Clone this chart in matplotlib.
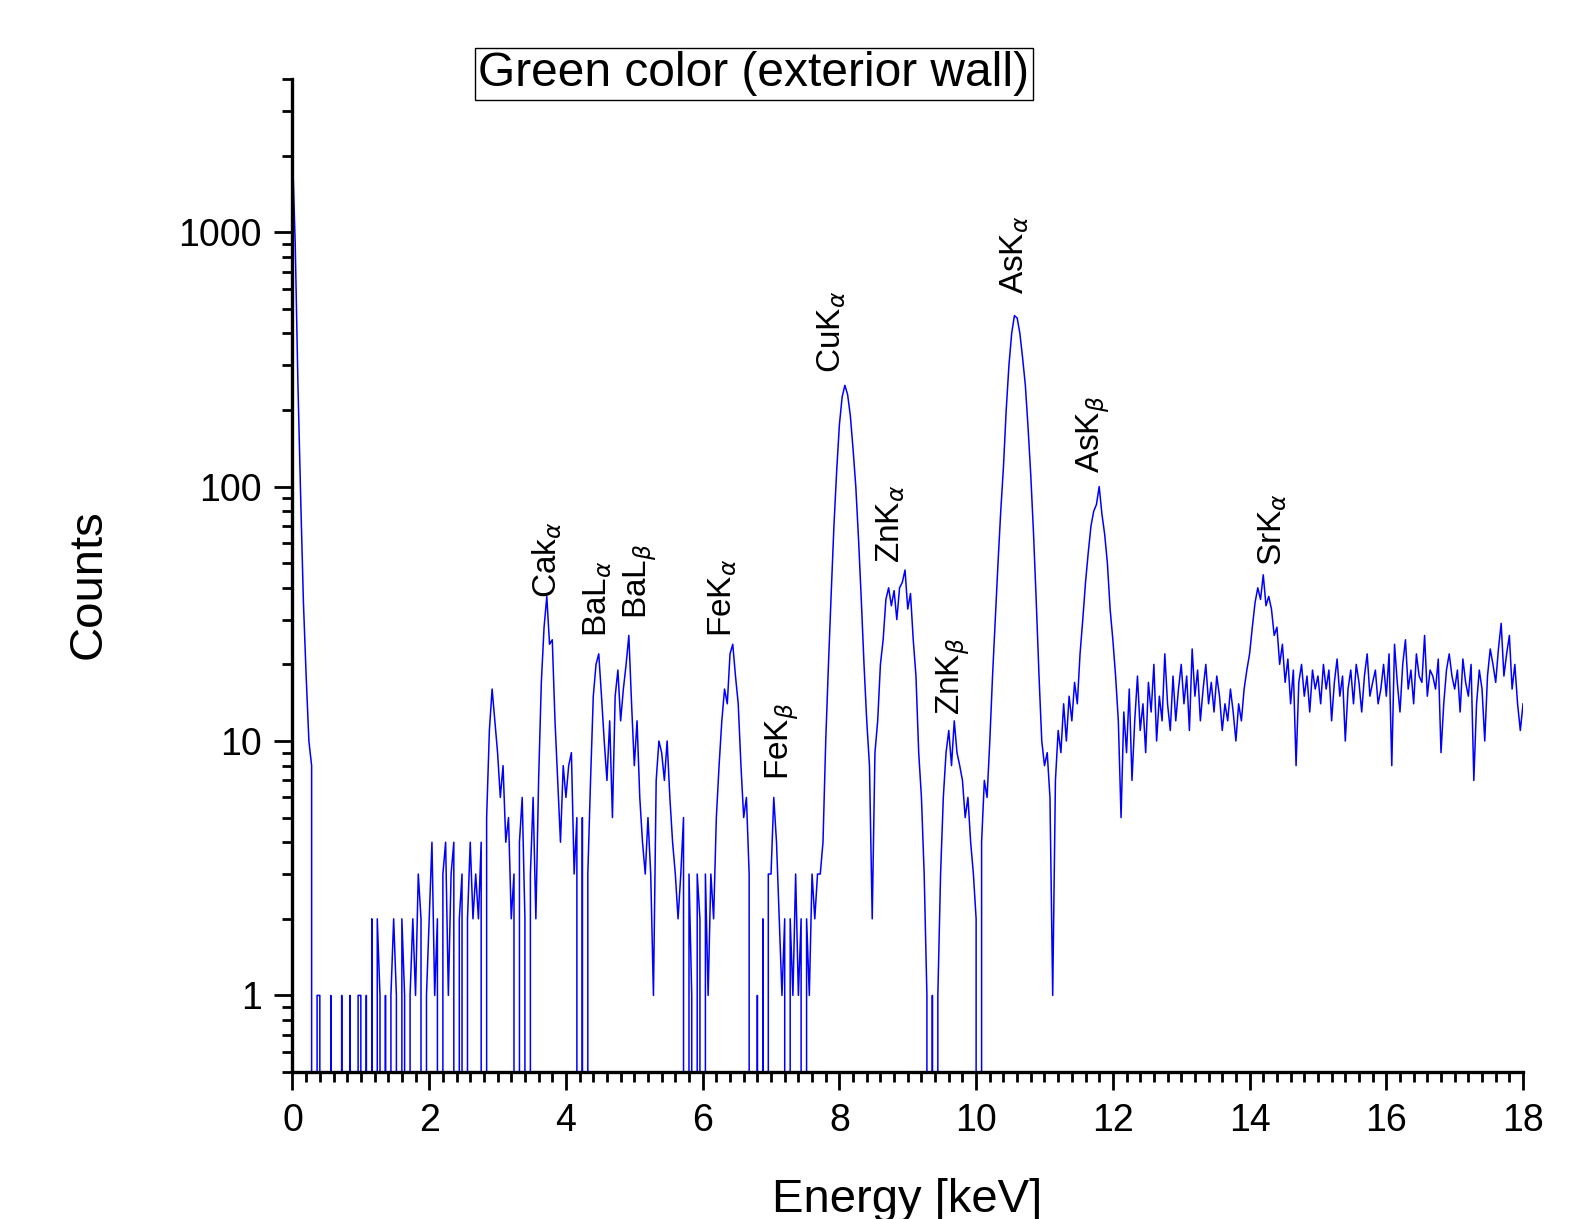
import numpy as np
import matplotlib
matplotlib.use("Agg")
import matplotlib.pyplot as plt

plt.rcParams['font.family'] = ['Liberation Sans', 'DejaVu Sans']

# XRF spectrum, one count value every 0.04 keV
ENERGY_STEP = 0.04
counts = [
    # 0.00 - 0.96
    2050, 900, 250, 90, 35, 18, 10, 8, 0, 1, 1, 0, 0, 0, 1, 0, 0, 0, 1, 0, 0, 1, 0, 0, 1,
    # 1.00 - 1.96
    1, 0, 1, 0, 2, 0, 2, 1, 0, 1, 0, 1, 2, 1, 0, 2, 1, 0, 1, 2, 1, 3, 2, 0, 1,
    # 2.00 - 2.96
    2, 4, 1, 2, 0, 3, 4, 1, 3, 4, 0, 2, 3, 0, 2, 4, 2, 3, 2, 4, 0, 5, 11, 16, 12,
    # 3.00 - 3.96
    9, 6, 8, 4, 5, 2, 3, 0, 4, 6, 2, 0, 3, 6, 2, 7, 17, 28, 37, 24, 25, 12, 7, 4, 8,
    # 4.00 - 4.96
    6, 8, 9, 3, 5, 0, 5, 0, 3, 7, 15, 20, 22, 15, 10, 7, 12, 5, 15, 19, 12, 16, 20, 26, 14,
    # 5.00 - 5.96
    8, 12, 6, 4, 3, 5, 3, 1, 7, 10, 9, 7, 10, 6, 4, 3, 2, 3, 5, 0, 3, 1, 0, 3, 2,
    # 6.00 - 6.96
    0, 3, 1, 3, 2, 5, 8, 12, 16, 14, 22, 24, 18, 14, 8, 5, 6, 3, 0, 0, 1, 0, 2, 0, 3,
    # 7.00 - 7.96
    3, 6, 4, 2, 1, 2, 0, 2, 1, 3, 1, 2, 0, 2, 1, 3, 2, 3, 3, 4, 10, 20, 38, 70, 115,
    # 8.00 - 8.96
    175, 225, 250, 230, 190, 140, 100, 62, 36, 20, 12, 8, 2, 9, 12, 20, 25, 36, 40, 34, 39, 30, 40, 42, 47,
    # 9.00 - 9.96
    33, 38, 25, 18, 9, 6, 3, 1, 0, 1, 0, 1, 3, 6, 9, 11, 8, 12, 9, 8, 7, 5, 6, 4, 3,
    # 10.00 - 10.96
    2, 0, 4, 7, 6, 10, 18, 30, 50, 80, 120, 200, 300, 400, 470, 460, 400, 320, 250, 170, 110, 65, 35, 18, 10,
    # 11.00 - 11.96
    8, 9, 6, 1, 7, 11, 9, 14, 10, 15, 12, 17, 14, 22, 30, 42, 55, 70, 80, 85, 100, 78, 65, 50, 33,
    # 12.00 - 12.96
    25, 18, 12, 5, 13, 9, 16, 7, 12, 18, 11, 14, 9, 17, 13, 20, 10, 15, 12, 22, 14, 11, 18, 12, 16,
    # 13.00 - 13.96
    20, 14, 18, 11, 23, 15, 19, 12, 16, 20, 14, 17, 13, 18, 15, 11, 14, 12, 16, 13, 10, 14, 12, 16, 19,
    # 14.00 - 14.96
    22, 28, 35, 40, 36, 45, 34, 37, 33, 26, 28, 20, 24, 17, 21, 14, 19, 8, 17, 20, 15, 18, 13, 19, 16,
    # 15.00 - 15.96
    18, 14, 20, 16, 19, 12, 17, 21, 15, 18, 10, 16, 19, 14, 20, 17, 13, 18, 22, 15, 17, 19, 14, 16, 20,
    # 16.00 - 16.96
    15, 22, 8, 24, 17, 13, 20, 25, 16, 19, 14, 22, 18, 17, 26, 15, 19, 18, 16, 21, 9, 14, 19, 22, 18,
    # 17.00 - 17.96
    16, 19, 13, 21, 17, 15, 20, 7, 14, 19, 16, 10, 18, 23, 20, 17, 23, 29, 18, 22, 26, 16, 20, 14, 11,
    # 18.00
    14,
]
energy = np.arange(len(counts)) * ENERGY_STEP

# peak labels, placed at (energy, counts) of the label's lower end
peak_labels = ['Cak$_\\alpha$', 'BaL$_\\alpha$', 'BaL$_\\beta$', 'FeK$_\\alpha$', 'FeK$_\\beta$',
               'CuK$_\\alpha$', 'ZnK$_\\alpha$', 'ZnK$_\\beta$', 'AsK$_\\alpha$', 'AsK$_\\beta$',
               'SrK$_\\alpha$']
label_x = [3.72, 4.46, 5.08, 6.29, 7.16, 7.89, 8.75, 9.67, 10.57, 11.71, 14.34]
label_y = [36.5, 25.7, 30.3, 25.7, 7.0, 279, 50.3, 12.7, 571, 112.7, 48.9]

fig = plt.figure(figsize=(15.87, 12.19), dpi=100)
ax = fig.add_axes([0.1843, 0.1206, 0.7754, 0.8146])

ax.plot(energy, counts, color='#0000ff', lw=1.1)

ax.set_yscale('log')
ax.set_xlim(0, 18)
ax.set_ylim(0.5, 4000)
ax.set_xticks(np.arange(0, 19, 2))
ax.set_xticks(np.arange(0, 18.01, 0.2), minor=True)
ax.set_yticks([1, 10, 100, 1000])
ax.set_yticklabels(['1', '10', '100', '1000'])

for side in ['top', 'right']:
    ax.spines[side].set_visible(False)
for side in ['left', 'bottom']:
    ax.spines[side].set_linewidth(2.4)

ax.tick_params(which='major', length=13, width=2, labelsize=27, pad=9)
ax.tick_params(which='minor', length=7, width=2)

for txt, x, y in zip(peak_labels, label_x, label_y):
    ax.text(x, y, txt, rotation=90, ha='center', va='bottom', fontsize=24)

fig.text(89 / 1587, 1 - 584 / 1219, 'Counts', rotation=90, ha='center', va='center', fontsize=34)
fig.text(907 / 1587, 1 - 1200 / 1219, 'Energy [keV]', ha='center', va='center', fontsize=34)
fig.text(754 / 1587, 1 - 74 / 1219, 'Green color (exterior wall)', ha='center', va='center',
         fontsize=34.5, bbox=dict(boxstyle='square,pad=0.08', fc='white', ec='black', lw=1.0))

fig.savefig('out.png', dpi=100)
